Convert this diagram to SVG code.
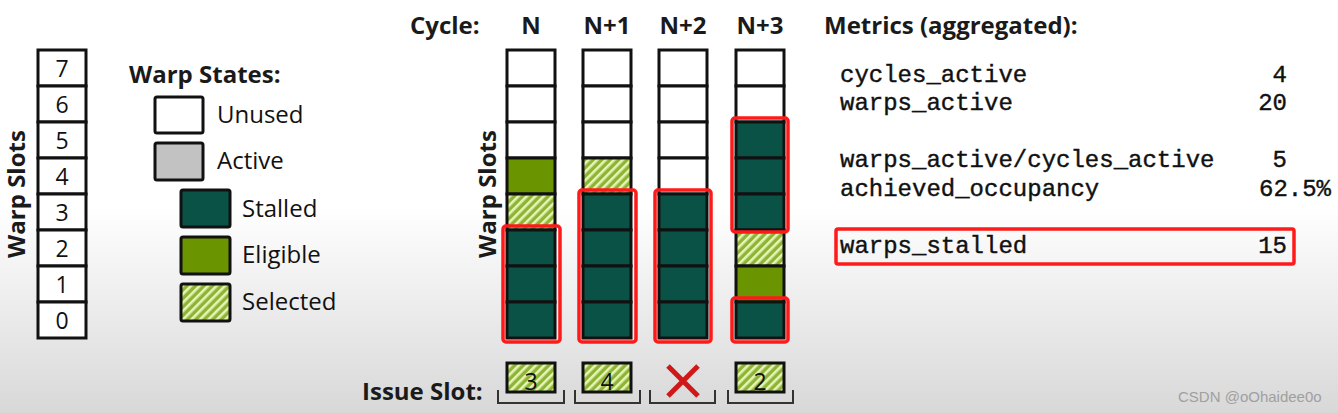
<svg xmlns="http://www.w3.org/2000/svg" width="1338" height="413" viewBox="0 0 1338 413">
<defs>
  <linearGradient id="bg" x1="0" y1="0" x2="0" y2="1">
    <stop offset="0" stop-color="#ffffff"/>
    <stop offset="0.5" stop-color="#ffffff"/>
    <stop offset="1" stop-color="#d8d8d8"/>
  </linearGradient>
  <pattern id="hatch" patternUnits="userSpaceOnUse" width="6" height="6" patternTransform="rotate(45)">
    <rect x="0" y="0" width="6" height="6" fill="#8db437"/>
    <rect x="0" y="0" width="2.6" height="6" fill="#e6f4b4"/>
  </pattern>
  <style>
    .cell { stroke: #111; stroke-width: 3; }
    .u { fill: #ffffff; }
    .a { fill: #c2c2c2; }
    .t { fill: #0a5246; }
    .e { fill: #6a9400; }
    .s { fill: url(#hatch); }
    .red { fill: none; stroke: #ff1a1a; stroke-width: 3.5; }
    .hdr { font-family: "Open Sans", "DejaVu Sans", sans-serif; font-weight: bold; font-size: 24px; fill: #1a1a1a; }
    .lbl { font-family: "Open Sans", "DejaVu Sans", sans-serif; font-size: 24px; fill: #111; }
    .num { font-family: "Open Sans", "DejaVu Sans", sans-serif; font-size: 23px; fill: #111; text-anchor: middle; }
    .mono { font-family: "Liberation Mono", "DejaVu Sans Mono", monospace; font-size: 24px; fill: #111; stroke: #111; stroke-width: 0.4; }
    .br { fill: none; stroke: #333; stroke-width: 2; }
  </style>
</defs>
<rect x="0" y="0" width="1338" height="413" fill="url(#bg)"/>

<g id="left-slots">
  <text class="hdr" transform="translate(25,194) rotate(-90)" text-anchor="middle" font-size="25">Warp Slots</text>
  <rect class="cell u" x="38" y="50" width="48" height="36"/>
  <rect class="cell u" x="38" y="86" width="48" height="36"/>
  <rect class="cell u" x="38" y="122" width="48" height="36"/>
  <rect class="cell u" x="38" y="158" width="48" height="36"/>
  <rect class="cell u" x="38" y="194" width="48" height="36"/>
  <rect class="cell u" x="38" y="230" width="48" height="36"/>
  <rect class="cell u" x="38" y="266" width="48" height="36"/>
  <rect class="cell u" x="38" y="302" width="48" height="36"/>
  <text class="num" x="62" y="77">7</text>
  <text class="num" x="62" y="113">6</text>
  <text class="num" x="62" y="149">5</text>
  <text class="num" x="62" y="185">4</text>
  <text class="num" x="62" y="221">3</text>
  <text class="num" x="62" y="257">2</text>
  <text class="num" x="62" y="293">1</text>
  <text class="num" x="62" y="329">0</text>
</g>

<g id="legend">
  <text class="hdr" x="129" y="83">Warp States:</text>
  <g id="legend-unused">
    <rect class="cell u" x="155" y="97" width="48" height="36" rx="2"/>
    <text class="lbl" x="217" y="123">Unused</text>
  </g>
  <g id="legend-active">
    <rect class="cell a" x="155" y="143" width="48" height="37" rx="2"/>
    <text class="lbl" x="217" y="169">Active</text>
  </g>
  <g id="legend-stalled">
    <rect class="cell t" x="181" y="190" width="49" height="37" rx="2"/>
    <text class="lbl" x="242" y="217">Stalled</text>
  </g>
  <g id="legend-eligible">
    <rect class="cell e" x="181" y="237" width="49" height="37" rx="2"/>
    <text class="lbl" x="242" y="263">Eligible</text>
  </g>
  <g id="legend-selected">
    <rect class="cell s" x="181" y="284" width="49" height="37" rx="2"/>
    <text class="lbl" x="242" y="310">Selected</text>
  </g>
</g>

<g id="cycle-header">
  <text class="hdr" x="410" y="34">Cycle:</text>
  <text class="hdr" x="531" y="34" text-anchor="middle">N</text>
  <text class="hdr" x="607" y="34" text-anchor="middle">N+1</text>
  <text class="hdr" x="683" y="34" text-anchor="middle">N+2</text>
  <text class="hdr" x="760" y="34" text-anchor="middle">N+3</text>
</g>

<text class="hdr" transform="translate(496,194) rotate(-90)" text-anchor="middle" font-size="25">Warp Slots</text>

<g id="col-N">
  <rect class="cell u" x="507" y="50" width="48" height="36"/>
  <rect class="cell u" x="507" y="86" width="48" height="36"/>
  <rect class="cell u" x="507" y="122" width="48" height="36"/>
  <rect class="cell e" x="507" y="158" width="48" height="36"/>
  <rect class="cell s" x="507" y="194" width="48" height="36"/>
  <rect class="cell t" x="507" y="230" width="48" height="36"/>
  <rect class="cell t" x="507" y="266" width="48" height="36"/>
  <rect class="cell t" x="507" y="302" width="48" height="36"/>
  <rect class="red" x="503" y="226" width="57" height="116" rx="3"/>
</g>

<g id="col-N1">
  <rect class="cell u" x="583" y="50" width="48" height="36"/>
  <rect class="cell u" x="583" y="86" width="48" height="36"/>
  <rect class="cell u" x="583" y="122" width="48" height="36"/>
  <rect class="cell s" x="583" y="158" width="48" height="36"/>
  <rect class="cell t" x="583" y="194" width="48" height="36"/>
  <rect class="cell t" x="583" y="230" width="48" height="36"/>
  <rect class="cell t" x="583" y="266" width="48" height="36"/>
  <rect class="cell t" x="583" y="302" width="48" height="36"/>
  <rect class="red" x="579" y="190" width="57" height="152" rx="3"/>
</g>

<g id="col-N2">
  <rect class="cell u" x="659" y="50" width="48" height="36"/>
  <rect class="cell u" x="659" y="86" width="48" height="36"/>
  <rect class="cell u" x="659" y="122" width="48" height="36"/>
  <rect class="cell u" x="659" y="158" width="48" height="36"/>
  <rect class="cell t" x="659" y="194" width="48" height="36"/>
  <rect class="cell t" x="659" y="230" width="48" height="36"/>
  <rect class="cell t" x="659" y="266" width="48" height="36"/>
  <rect class="cell t" x="659" y="302" width="48" height="36"/>
  <rect class="red" x="655" y="190" width="56" height="152" rx="3"/>
</g>

<g id="col-N3">
  <rect class="cell u" x="736" y="50" width="48" height="36"/>
  <rect class="cell u" x="736" y="86" width="48" height="36"/>
  <rect class="cell t" x="736" y="122" width="48" height="36"/>
  <rect class="cell t" x="736" y="158" width="48" height="36"/>
  <rect class="cell t" x="736" y="194" width="48" height="36"/>
  <rect class="cell s" x="736" y="230" width="48" height="36"/>
  <rect class="cell e" x="736" y="266" width="48" height="36"/>
  <rect class="cell t" x="736" y="302" width="48" height="36"/>
  <rect class="red" x="732" y="118" width="56" height="114" rx="3"/>
  <rect class="red" x="732" y="298" width="56" height="44" rx="3"/>
</g>

<g id="issue-slots">
  <text class="hdr" x="362" y="400" font-size="25">Issue Slot:</text>
  <g id="issue-N">
    <rect class="cell s" x="507" y="363" width="48" height="29"/>
    <text class="num" x="531" y="390" font-size="24">3</text>
  </g>
  <g id="issue-N1">
    <rect class="cell s" x="583" y="363" width="48" height="29"/>
    <text class="num" x="607" y="390" font-size="24">4</text>
  </g>
  <g id="issue-N2">
    <path d="M668,366 L698,396 M698,366 L668,396" stroke="#d01818" stroke-width="5" fill="none"/>
  </g>
  <g id="issue-N3">
    <rect class="cell s" x="736" y="363" width="48" height="29"/>
    <text class="num" x="760" y="390" font-size="24">2</text>
  </g>
</g>

<g id="connectors">
  <path class="br" d="M498,390 V403 H564 V390"/>
  <path class="br" d="M575,390 V403 H640 V390"/>
  <path class="br" d="M650,390 V403 H715 V390"/>
  <path class="br" d="M728,390 V403 H793 V390"/>
</g>

<g id="metrics">
  <text class="hdr" x="824" y="34">Metrics (aggregated):</text>
  <text class="mono" x="840" y="82">cycles_active</text>
  <text class="mono" x="1287" y="82" text-anchor="end">4</text>
  <text class="mono" x="840" y="110">warps_active</text>
  <text class="mono" x="1287" y="110" text-anchor="end">20</text>
  <text class="mono" x="840" y="167">warps_active/cycles_active</text>
  <text class="mono" x="1287" y="167" text-anchor="end">5</text>
  <text class="mono" x="840" y="196">achieved_occupancy</text>
  <text class="mono" x="1259" y="196">62.5%</text>
  <text class="mono" x="840" y="253">warps_stalled</text>
  <text class="mono" x="1287" y="253" text-anchor="end">15</text>
  <rect class="red" x="836" y="229" width="458" height="35" rx="2"/>
</g>

<text x="1178" y="402" font-family="Liberation Sans, Arial, sans-serif" font-size="15" fill="#a0a0a0">CSDN @oOhaidee0o</text>
</svg>
